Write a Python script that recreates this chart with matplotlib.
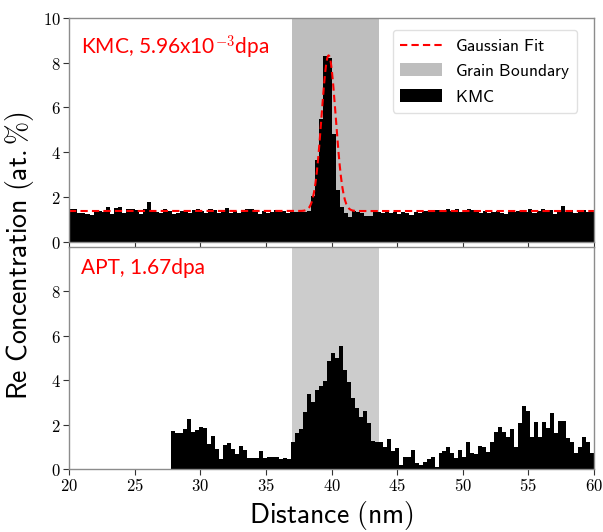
import numpy as np
import matplotlib
matplotlib.use("Agg")
import matplotlib.pyplot as plt
from matplotlib.patches import Patch
from matplotlib.lines import Line2D
from matplotlib.ticker import FuncFormatter

plt.rcParams['mathtext.fontset'] = 'cm'

# ---------------- data ----------------
# KMC profile (top panel): 128 bins from 20 to 60 nm
kmc_range = (20.0, 60.0)
kmc_values = [
    1.45, 1.45, 1.30, 1.27, 1.22, 1.18, 1.37, 1.36, 1.31, 1.56,
    1.25, 1.49, 1.56, 1.30, 1.45, 1.46, 1.40, 1.25, 1.44, 1.76,
    1.33, 1.33, 1.28, 1.44, 1.35, 1.22, 1.30, 1.38, 1.32, 1.29,
    1.41, 1.48, 1.36, 1.30, 1.44, 1.40, 1.28, 1.34, 1.49, 1.27,
    1.36, 1.26, 1.31, 1.45, 1.44, 1.34, 1.22, 1.38, 1.28, 1.31,
    1.43, 1.33, 1.35, 1.30, 1.34, 1.32, 1.33, 1.31,
    1.38, 2.05, 3.65, 5.50, 8.30, 8.20, 4.80, 2.30, 1.55,
    1.30, 1.12, 1.36, 1.34, 1.30, 1.16, 1.15, 1.40, 1.33, 1.30,
    1.36, 1.28, 1.33, 1.22, 1.31, 1.27, 1.20, 1.34, 1.29, 1.36,
    1.38, 1.31, 1.40, 1.42, 1.42, 1.44, 1.38, 1.45, 1.32, 1.36,
    1.48, 1.40, 1.34, 1.30, 1.36, 1.29, 1.33, 1.38, 1.30, 1.22,
    1.34, 1.31, 1.36, 1.42, 1.33, 1.45, 1.30, 1.38, 1.44, 1.35,
    1.40, 1.22, 1.34, 1.58, 1.32, 1.42, 1.28, 1.36, 1.40, 1.33,
    1.42,
]

# Gaussian fit parameters
gauss_base = 1.37
gauss_amp = 6.95
gauss_mu = 39.78
gauss_sigma = 0.54

# APT profile (bottom panel): bins from 27.8 to 60 nm
apt_range = (27.8, 60.0)
apt_values = [
    1.73, 1.61, 1.61, 1.80, 2.24, 1.67, 1.74, 1.91, 1.83, 1.13,
    1.49, 0.89, 0.45, 1.10, 1.16, 0.89, 0.66, 1.05, 0.86, 0.50,
    0.50, 0.50, 0.80, 0.50, 0.53, 0.56, 0.56, 0.45, 0.50, 0.45,
    1.23, 1.61, 1.80, 2.58, 3.38, 3.03, 3.56, 3.75, 3.98, 4.88,
    5.21, 4.98, 5.54, 4.46, 3.93, 3.18, 2.73, 2.36, 2.61, 2.06,
    1.28, 1.23, 1.23, 0.98, 1.35, 0.83, 0.93, 0.18, 0.53, 0.53,
    0.86, 0.26, 0.18, 0.33, 0.45, 0.53, 0.11, 0.71, 0.83, 0.98,
    0.71, 0.50, 0.86, 0.56, 1.23, 0.71, 0.69, 1.05, 1.01, 0.78,
    1.23, 1.65, 1.88, 1.65, 1.46, 1.80, 0.98, 2.06, 2.85, 2.63,
    1.46, 2.13, 1.46, 2.13, 1.83, 2.51, 1.61, 2.16, 2.16, 1.38,
    1.23, 0.71, 0.98, 1.46, 1.23, 0.71,
]

grain_boundary = (37.0, 43.6)
x_limits = (20, 60)
y_limits = (0, 10)
x_ticks = [20, 25, 30, 35, 40, 45, 50, 55, 60]
top_yticks = [0, 2, 4, 6, 8, 10]
bottom_yticks = [0, 2, 4, 6, 8]

top_label = r"KMC, 5.96x10$^{-3}$dpa"
bottom_label = "APT, 1.67dpa"

# ---------------- figure ----------------
W, H = 603, 532
fig = plt.figure(figsize=(W / 100, H / 100), dpi=100)
L, R = 69 / W, 594 / W
ax1 = fig.add_axes([L, 1 - 241.7 / H, R - L, 224 / H])
ax2 = fig.add_axes([L, 1 - 469 / H, R - L, 222 / H])

spine_col = '0.55'
fmt = FuncFormatter(lambda v, p: r"$%d$" % v)

def style(ax):
    for s in ax.spines.values():
        s.set_color(spine_col)
        s.set_linewidth(1.0)
        s.set_zorder(5)
    ax.set_xlim(*x_limits)
    ax.set_ylim(*y_limits)
    ax.set_xticks(x_ticks)
    ax.tick_params(direction='out', length=4, width=0.8, color='0.2',
                   labelsize=12, pad=2)
    ax.xaxis.set_major_formatter(fmt)
    ax.yaxis.set_major_formatter(fmt)

# top panel
kmc_edges = np.linspace(kmc_range[0], kmc_range[1], len(kmc_values) + 1)
ax1.axvspan(*grain_boundary, color='#bebebe', lw=0, zorder=0)
ax1.stairs(kmc_values, kmc_edges, fill=True, color='black', lw=0, zorder=1)
xs = np.linspace(x_limits[0], x_limits[1], 800)
fit = gauss_base + gauss_amp * np.exp(-0.5 * ((xs - gauss_mu) / gauss_sigma) ** 2)
ax1.plot(xs, fit, color='red', ls=(0, (3.5, 2)), lw=1.5, zorder=2)
style(ax1)
ax1.set_yticks(top_yticks)
ax1.tick_params(axis='x', labelbottom=False)
ax1.text(0.023, 0.833, top_label, transform=ax1.transAxes, color='red',
         fontsize=15, family='Lato', va='baseline', ha='left')

handles = [Line2D([], [], color='red', ls=(0, (3.5, 2)), lw=1.5),
           Patch(facecolor='#bebebe', edgecolor='none'),
           Patch(facecolor='black', edgecolor='none')]
labels = [r"$\mathsf{Gaussian\ Fit}$", r"$\mathsf{Grain\ Boundary}$", r"$\mathsf{KMC}$"]
ax1.legend(handles, labels, loc='upper right', fontsize=12.5, frameon=True,
           framealpha=0.8, edgecolor='0.85', fancybox=True,
           handlelength=2.4, borderpad=0.4, labelspacing=0.4,
           bbox_to_anchor=(0.985, 0.985))

# bottom panel
apt_edges = np.linspace(apt_range[0], apt_range[1], len(apt_values) + 1)
ax2.axvspan(*grain_boundary, color='#cccccc', lw=0, zorder=0)
ax2.stairs(apt_values, apt_edges, fill=True, color='black', lw=0, zorder=1)
style(ax2)
ax2.set_yticks(bottom_yticks)
ax2.text(0.023, 0.877, bottom_label, transform=ax2.transAxes, color='red',
         fontsize=15, family='Lato', va='baseline', ha='left')

ax2.set_xlabel(r"$\mathsf{Distance\ (nm)}$", fontsize=20, labelpad=3)
fig.text(0.032, 0.52, r"$\mathsf{Re\ Concentration\ (at.\%)}$", rotation=90,
         fontsize=20, ha='center', va='center')

fig.savefig("out.png", dpi=100)
